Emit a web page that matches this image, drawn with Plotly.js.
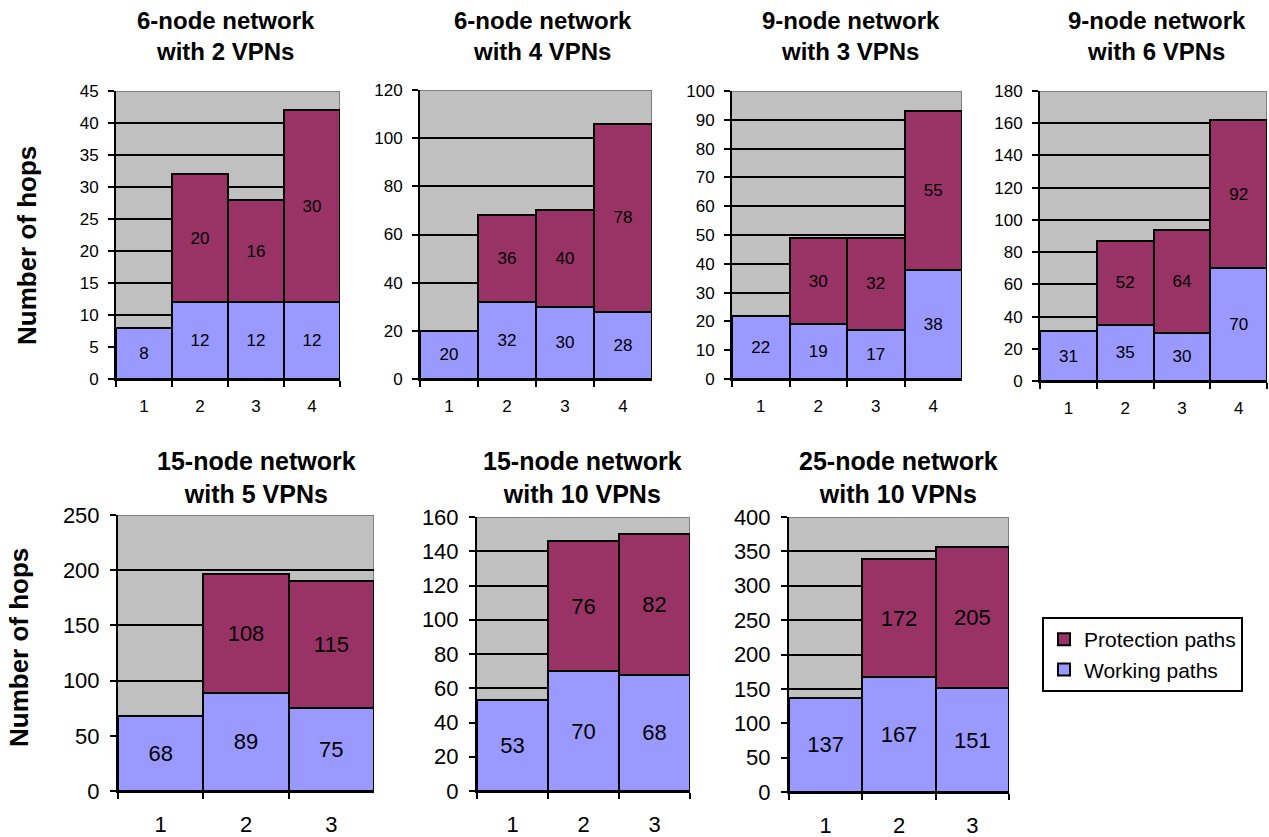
<!DOCTYPE html>
<html>
<head>
<meta charset="utf-8">
<script src="https://cdn.plot.ly/plotly-3.0.1.min.js"></script>
<style>html,body{margin:0;padding:0;background:#fff;}#chart{width:1269px;height:837px;}</style>
</head>
<body>
<div id="chart"></div>
<script>
// ---- Data ----
const categories4 = ['1', '2', '3', '4'];
const categories3 = ['1', '2', '3'];

const titles = [
  '6-node network<br>with 2 VPNs',
  '6-node network<br>with 4 VPNs',
  '9-node network<br>with 3 VPNs',
  '9-node network<br>with 6 VPNs',
  '15-node network<br>with 5 VPNs',
  '15-node network<br>with 10 VPNs',
  '25-node network<br>with 10 VPNs'
];

const working6n2v = [8, 12, 12, 12];
const protection6n2v = [null, 20, 16, 30];
const working6n4v = [20, 32, 30, 28];
const protection6n4v = [null, 36, 40, 78];
const working9n3v = [22, 19, 17, 38];
const protection9n3v = [null, 30, 32, 55];
const working9n6v = [31, 35, 30, 70];
const protection9n6v = [null, 52, 64, 92];
const working15n5v = [68, 89, 75];
const protection15n5v = [null, 108, 115];
const working15n10v = [53, 70, 68];
const protection15n10v = [null, 76, 82];
const working25n10v = [137, 167, 151];
const protection25n10v = [null, 172, 205];

const seriesNames = ['Working paths', 'Protection paths'];
const yMax = [45, 120, 100, 180, 250, 160, 400];
const yStep = [5, 20, 10, 20, 50, 20, 50];

// ---- Layout helpers ----
const W = 1269, H = 837;
const FONT = 'Liberation Sans, Arial, sans-serif';
const COL_WORK = '#9999FF', COL_PROT = '#993366';

// pixel boxes [left, right, top, bottom]
const boxes = [
  [116, 340, 91, 379],
  [420, 652, 90, 379],
  [732, 962, 91, 379],
  [1040, 1267, 91, 381],
  [118, 374, 515, 791],
  [477, 690, 517, 791],
  [789, 1009, 517, 792]
];
const titlePos = [[226, 36], [543, 36], [851, 36], [1157, 36], [256, 477], [582, 477], [898, 477]];

const panels = [
  [categories4, working6n2v, protection6n2v],
  [categories4, working6n4v, protection6n4v],
  [categories4, working9n3v, protection9n3v],
  [categories4, working9n6v, protection9n6v],
  [categories3, working15n5v, protection15n5v],
  [categories3, working15n10v, protection15n10v],
  [categories3, working25n10v, protection25n10v]
];

const traces = [];
const layout = {
  width: W, height: H,
  margin: {l: 0, r: 0, t: 0, b: 0},
  paper_bgcolor: '#ffffff',
  plot_bgcolor: '#C0C0C0',
  barmode: 'stack',
  bargap: 0,
  showlegend: true,
  font: {family: FONT, color: '#000'},
  legend: {
    x: 1042 / W, y: 1 - 617 / H, xanchor: 'left', yanchor: 'top',
    bgcolor: '#ffffff', bordercolor: '#000', borderwidth: 2,
    font: {family: FONT, size: 21, color: '#000'},
    traceorder: 'reversed', itemwidth: 30
  },
  annotations: [],
  shapes: []
};

panels.forEach((p, i) => {
  const n = i + 1;
  const xa = n === 1 ? 'x' : 'x' + n;
  const ya = n === 1 ? 'y' : 'y' + n;
  const bottomRow = i >= 4;
  const tickSize = bottomRow ? 22 : 17;
  const labelSize = bottomRow ? 22 : 17;
  const b = boxes[i];
  const [cats, work, prot] = p;
  const isLegend = i === 6;

  traces.push({
    type: 'bar', x: cats, y: work, xaxis: xa, yaxis: ya,
    name: seriesNames[0], legendgroup: 'w', showlegend: isLegend,
    marker: {color: COL_WORK, line: {color: '#000', width: 2}},
    text: work.map(v => v === null ? '' : String(v)),
    textposition: 'inside', insidetextanchor: 'middle',
    textangle: 0, constraintext: 'none',
    insidetextfont: {family: FONT, size: labelSize, color: '#000'},
    hoverinfo: 'skip'
  });
  traces.push({
    type: 'bar', x: cats, y: prot, xaxis: xa, yaxis: ya,
    name: seriesNames[1], legendgroup: 'p', showlegend: isLegend,
    marker: {color: COL_PROT, line: {color: '#000', width: 2}},
    text: prot.map(v => v === null ? '' : String(v)),
    textposition: 'inside', insidetextanchor: 'middle',
    textangle: 0, constraintext: 'none',
    insidetextfont: {family: FONT, size: labelSize, color: '#000'},
    hoverinfo: 'skip'
  });

  const xKey = n === 1 ? 'xaxis' : 'xaxis' + n;
  const yKey = n === 1 ? 'yaxis' : 'yaxis' + n;
  layout[xKey] = {
    domain: [b[0] / W, b[1] / W],
    anchor: ya,
    type: 'category',
    range: [-0.5, cats.length - 0.5],
    showline: true, linecolor: '#000', linewidth: 2,
    ticks: 'outside', tickson: 'boundaries', ticklen: 6, tickwidth: 2, tickcolor: '#000',
    ticklabelstandoff: bottomRow ? 13 : 11,
    showgrid: false, zeroline: false, fixedrange: true,
    tickfont: {family: FONT, size: tickSize, color: '#000'}
  };
  layout[yKey] = {
    domain: [1 - b[3] / H, 1 - b[2] / H],
    anchor: xa,
    range: [0, yMax[i]],
    dtick: yStep[i], tick0: 0,
    showline: true, linecolor: '#000', linewidth: 2,
    ticks: 'outside', ticklen: 6, tickwidth: 2, tickcolor: '#000',
    ticklabelstandoff: 6,
    showgrid: true, gridcolor: '#000', gridwidth: 2,
    zeroline: false, fixedrange: true,
    tickfont: {family: FONT, size: tickSize, color: '#000'}
  };

  // gray top and right border of plot area
  layout.shapes.push({type: 'line', xref: xa, yref: ya,
    x0: -0.5, x1: cats.length - 0.5, y0: yMax[i], y1: yMax[i],
    line: {color: '#808080', width: 2}, layer: 'below'});
  layout.shapes.push({type: 'line', xref: xa, yref: ya,
    x0: cats.length - 0.5, x1: cats.length - 0.5, y0: 0, y1: yMax[i],
    line: {color: '#808080', width: 2}, layer: 'below'});

  layout.annotations.push({
    text: '<b>' + titles[i].replace('<br>', '</b><br><b>') + '</b>',
    xref: 'paper', yref: 'paper',
    x: titlePos[i][0] / W, y: 1 - titlePos[i][1] / H,
    xanchor: 'center', yanchor: 'middle', showarrow: false,
    font: {family: FONT, size: bottomRow ? 25 : 24, color: '#000'}
  });
});

// y axis titles
[[27, 246], [19, 648]].forEach(pos => {
  layout.annotations.push({
    text: '<b>Number of hops</b>', textangle: -90,
    xref: 'paper', yref: 'paper', x: pos[0] / W, y: 1 - pos[1] / H,
    xanchor: 'center', yanchor: 'middle', showarrow: false,
    font: {family: FONT, size: 26, color: '#000'}
  });
});

Plotly.newPlot('chart', traces, layout, {staticPlot: true, displayModeBar: false});
</script>
</body>
</html>
